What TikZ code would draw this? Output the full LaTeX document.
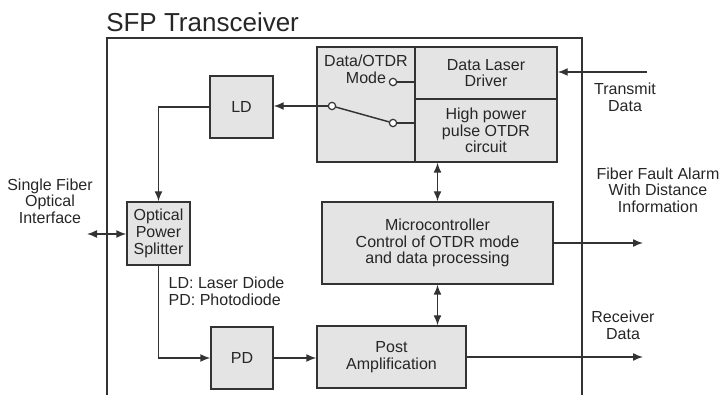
\documentclass[tikz,border=0pt]{standalone}
\usepackage{fontspec}
\setmainfont{Liberation Sans}
\usetikzlibrary{arrows.meta}
\definecolor{linec}{HTML}{333333}
\definecolor{boxc}{HTML}{E4E4E4}
\tikzset{
 blk/.style 2 args={draw=linec, fill=boxc, line width=1.1pt, align=center, inner sep=0pt,
   minimum width=#1*0.75pt, minimum height=#2*0.75pt, text=black!85, font=\fontsize{12}{12.5}\selectfont},
 wire/.style={draw=linec, line width=1.1pt},
 arr/.style={wire, -{Latex[length=7.5pt,width=6pt]}},
 darr/.style={wire, {Latex[length=7.5pt,width=6pt]}-{Latex[length=7.5pt,width=6pt]}},
 pin/.style={circle, draw=linec, fill=white, line width=0.9pt, inner sep=0pt, minimum size=5.5pt},
 lbl/.style={align=center, text=black!85, font=\fontsize{12}{12.5}\selectfont}
}
\begin{document}
\begin{tikzpicture}[x=0.75pt,y=-0.75pt]
\useasboundingbox (0,0) rectangle (721,395);
\node [anchor=base west, inner sep=0pt, text=black!85, font=\fontsize{19.5}{20}\selectfont] (title) at (106,32) {SFP Transceiver};
\draw [wire] (107,395) |- (582,38) -- (582,395);

\node [blk={98}{115}] (mode) at (366,104.5) {};
\node [lbl, anchor=north, inner sep=0pt, yshift=-6.5pt] (modetxt) at (mode.north) {Data/OTDR\\Mode};
\node [blk={142}{52}] (drv) at (486,73) {Data Laser\\Driver};
\node [blk={142}{63}] (otdr) at (486,130.5) {High power\\pulse OTDR\\circuit};
\node [blk={63}{62}] (ld) at (241.5,107) {LD};
\node [blk={63}{63}] (spl) at (158.5,233.5) {Optical\\Power\\Splitter};
\node [blk={231}{82}] (mcu) at (437.5,243) {Microcontroller\\Control of OTDR mode\\and data processing};
\node [blk={62}{62}] (pd) at (242,358) {PD};
\node [blk={149}{62}] (post) at (391.5,357) {Post\\Amplification};

\node [pin] (sw) at (332,106) {};
\node [pin] (ca) at (393,82) {};
\node [pin] (cb) at (393,123) {};
\draw [wire] (ca) -- (ca -| drv.west);
\draw [wire] (cb) -- (cb -| otdr.west);
\draw [wire] (sw) -- (cb);
\draw [arr] (sw) -- (sw -| ld.east);

\coordinate (txin) at (647,72);
\draw [arr] (txin) -- (txin -| drv.east);
\draw [arr] (ld.west) -| (spl.north);
\draw [arr] (spl.south) |- (pd.west);
\draw [arr] (pd.east) -- (pd.east -| post.west);
\coordinate (fib) at (87,234);
\draw [darr] (fib) -- (fib -| spl.west);
\draw [darr] (mcu.north) -- (mcu.north |- otdr.south);
\draw [darr] (mcu.south) -- (mcu.south |- post.north);
\coordinate (alarm) at (643,243);
\draw [arr] (mcu.east) -- (alarm);
\coordinate (rx) at (643,357);
\draw [arr] (post.east) -- (rx);

\node [lbl] (fibtxt) at (50,201) {Single Fiber\\Optical\\Interface};
\node [lbl] (txtxt) at (625,97) {Transmit\\Data};
\node [lbl] (alarmtxt) at (658,190) {Fiber Fault Alarm\\With Distance\\Information};
\node [lbl] (rxtxt) at (623,325) {Receiver\\Data};
\node [lbl, align=left, anchor=west] (legend) at (164,291) {LD: Laser Diode\\PD: Photodiode};
\end{tikzpicture}
\end{document}
